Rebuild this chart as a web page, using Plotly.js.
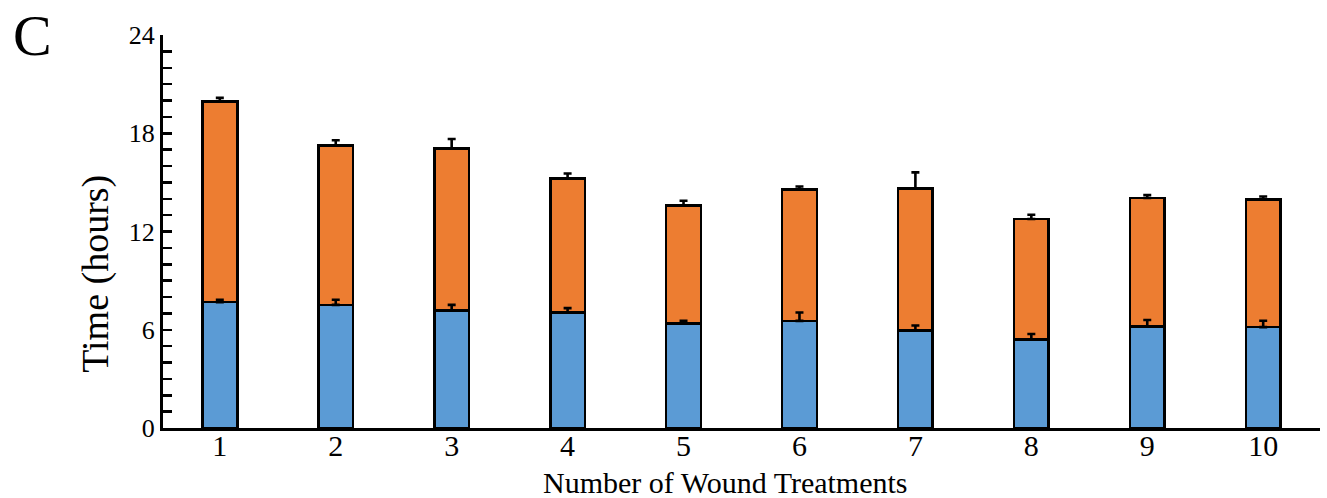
<!DOCTYPE html>
<html>
<head>
<meta charset="utf-8">
<script src="https://cdn.plot.ly/plotly-3.0.1.min.js"></script>
<style>
  html, body { margin: 0; padding: 0; background: #ffffff; }
  #chart { width: 1327px; height: 498px; }
</style>
</head>
<body>
<div id="chart"></div>
<script>
// Wound treatment timing: lower (blue) and upper (orange) stacked segments, hours
const treatments   = [1, 2, 3, 4, 5, 6, 7, 8, 9, 10];
const tickLabels   = ['1', '2', '3', '4', '5', '6', '7', '8', '9', '10'];
const lowerHours   = [7.69, 7.52, 7.17, 7.05, 6.40, 6.54, 5.95, 5.42, 6.19, 6.16];
const lowerErr     = [0.14, 0.31, 0.35, 0.27, 0.14, 0.51, 0.31, 0.32, 0.41, 0.39];
const upperHours   = [12.26, 9.74, 9.89, 8.18, 7.19, 8.01, 8.66, 7.34, 7.86, 7.80];
const totalErr     = [0.21, 0.31, 0.59, 0.31, 0.29, 0.20, 1.00, 0.26, 0.18, 0.18];
const yTicks       = [0, 6, 12, 18, 24];

const totals = lowerHours.map((v, i) => v + upperHours[i]);
const zeros = treatments.map(() => 0);

const serif = 'Liberation Serif, Times New Roman, serif';
const outline = { color: '#000000', width: 2.6 };

const traces = [
  {
    type: 'bar', name: 'Lower segment', x: treatments, y: lowerHours,
    width: 0.3, marker: { color: '#5b9bd5', line: outline }
  },
  {
    type: 'bar', name: 'Upper segment', x: treatments, y: upperHours,
    width: 0.3, marker: { color: '#ed7d31', line: outline }
  },
  // error bars drawn in the scatter layer so they sit above both bar segments
  {
    type: 'scatter', mode: 'markers', x: treatments, y: lowerHours,
    marker: { size: 1, opacity: 0 },
    error_y: { type: 'data', symmetric: false, array: lowerErr, arrayminus: zeros,
               color: '#000000', thickness: 2.6, width: 4 }
  },
  {
    type: 'scatter', mode: 'markers', x: treatments, y: totals,
    marker: { size: 1, opacity: 0 },
    error_y: { type: 'data', symmetric: false, array: totalErr, arrayminus: zeros,
               color: '#000000', thickness: 2.6, width: 4 }
  }
];

const layout = {
  width: 1327, height: 498,
  margin: { l: 163, r: 7, t: 35, b: 70 },
  paper_bgcolor: '#ffffff', plot_bgcolor: '#ffffff',
  barmode: 'stack',
  showlegend: false,
  hovermode: false,
  font: { family: serif, color: '#000000' },
  xaxis: {
    range: [0.51, 10.49],
    tickvals: treatments, ticktext: tickLabels,
    ticks: '', showgrid: false, zeroline: false,
    showline: true, linecolor: '#000000', linewidth: 3,
    ticklabelstandoff: -11,
    tickfont: { family: serif, size: 30, color: '#000000' }
  },
  yaxis: {
    range: [0, 24],
    tickvals: yTicks,
    ticks: 'inside', ticklen: 9, tickwidth: 2.5, tickcolor: '#000000',
    minor: { dtick: 1, ticks: 'inside', ticklen: 9, tickwidth: 2.5, tickcolor: '#000000', showgrid: false },
    showgrid: false, zeroline: false,
    showline: true, linecolor: '#000000', linewidth: 3,
    tickfont: { family: serif, size: 26, color: '#000000' }
  },
  annotations: [
    { text: 'C', xref: 'paper', yref: 'paper', x: -0.113, y: 1.087,
      xanchor: 'center', yanchor: 'top', showarrow: false,
      font: { family: serif, size: 58, color: '#000000' } },
    { text: 'Time (hours)', xref: 'paper', yref: 'paper', x: -0.058, y: 0.392,
      xanchor: 'center', yanchor: 'middle', textangle: -90, showarrow: false,
      font: { family: serif, size: 38, color: '#000000' } },
    { text: 'Number of Wound Treatments', xref: 'paper', yref: 'paper', x: 0.4866, y: -0.138,
      xanchor: 'center', yanchor: 'middle', showarrow: false,
      font: { family: serif, size: 30, color: '#000000' } }
  ]
};

Plotly.newPlot('chart', traces, layout, { staticPlot: true, displayModeBar: false });
</script>
</body>
</html>
